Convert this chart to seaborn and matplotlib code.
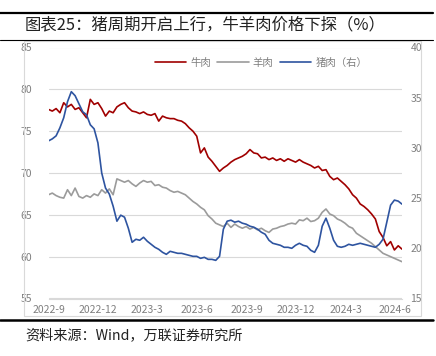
import numpy as np
import pandas as pd
import matplotlib
matplotlib.use("Agg")
import matplotlib.pyplot as plt
from matplotlib.lines import Line2D
from matplotlib.patches import Rectangle
import seaborn as sns

# ---------------- data (weekly readings from the chart) ----------------
start_date = "2022-09-01"
n_weeks = 94

beef = [77.6, 77.4, 77.7, 77.2, 78.4, 77.9, 78.2, 77.6, 77.8, 77.2,
        76.6, 78.8, 78.2, 78.4, 77.7, 76.8, 77.4, 77.2, 77.9, 78.2,
        78.4, 77.8, 77.4, 77.3, 77.1, 77.3, 77.0, 76.9, 77.1, 76.2,
        76.8, 76.6, 76.5, 76.5, 76.3, 76.2, 75.9, 75.4, 75.0, 74.4,
        72.4, 73.0, 71.9, 71.4, 70.8, 70.2, 70.6, 70.9, 71.3, 71.6,
        71.8, 72.0, 72.3, 72.8, 72.4, 72.3, 71.8, 71.9, 71.6, 71.8,
        71.5, 71.7, 71.4, 71.7, 71.5, 71.3, 71.6, 71.3, 71.1, 70.9,
        70.6, 70.8, 70.3, 70.4, 69.6, 69.2, 69.4, 69.0, 68.6, 68.1,
        67.4, 67.0, 66.3, 66.0, 65.6, 65.1, 64.5, 63.0, 62.3, 61.3,
        61.8, 60.8, 61.3, 60.9]

lamb = [67.4, 67.6, 67.3, 67.1, 67.0, 68.0, 67.3, 68.2, 67.2, 67.0,
        67.3, 67.1, 67.5, 67.3, 68.0, 67.6, 68.1, 67.4, 69.3, 69.1,
        68.9, 69.1, 68.7, 68.4, 68.8, 69.1, 68.9, 69.0, 68.5, 68.6,
        68.3, 68.2, 67.9, 67.7, 67.8, 67.6, 67.4, 67.0, 66.6, 66.3,
        65.9, 65.6, 64.9, 64.5, 64.0, 63.8, 63.6, 64.0, 63.5, 63.9,
        63.6, 63.4, 63.6, 63.3, 63.5, 63.2, 63.4, 63.1, 62.9, 63.3,
        63.4, 63.6, 63.7, 63.9, 64.0, 63.9, 64.4, 64.3, 64.6, 64.2,
        64.3, 64.6, 65.3, 65.7, 65.1, 64.9, 64.5, 64.3, 64.0, 63.6,
        63.4, 62.8, 62.5, 62.2, 61.9, 61.6, 61.2, 60.8, 60.4, 60.2,
        60.0, 59.8, 59.6, 59.4]

pork = [30.7, 30.9, 31.2, 32.0, 33.0, 34.6, 35.6, 35.2, 34.4, 33.6,
        33.3, 32.3, 31.9, 30.5, 27.5, 26.0, 25.4, 24.2, 22.7, 23.3,
        23.1, 22.0, 20.6, 20.9, 20.8, 21.1, 20.7, 20.4, 20.1, 19.9,
        19.6, 19.4, 19.7, 19.6, 19.5, 19.5, 19.4, 19.3, 19.2, 19.2,
        19.0, 19.1, 18.9, 18.9, 18.8, 19.2, 21.9, 22.7, 22.8, 22.6,
        22.7, 22.5, 22.4, 22.2, 22.1, 21.9, 21.6, 21.4, 20.8, 20.5,
        20.4, 20.3, 20.1, 20.1, 20.0, 20.3, 20.5, 20.3, 20.2, 19.8,
        19.6, 20.3, 22.2, 23.0, 22.0, 20.8, 20.2, 20.1, 20.2, 20.4,
        20.3, 20.4, 20.5, 20.4, 20.3, 20.2, 20.1, 20.4, 20.9, 22.6,
        24.3, 24.8, 24.7, 24.4]

series_names = ["牛肉", "羊肉", "猪肉（右）"]
tick_dates = ["2022-09-01", "2022-12-01", "2023-03-01", "2023-06-01",
              "2023-09-01", "2023-12-01", "2024-03-01", "2024-06-01"]
tick_labels = ["2022-9", "2022-12", "2023-3", "2023-6",
               "2023-9", "2023-12", "2024-3", "2024-6"]
left_ticks = [55, 60, 65, 70, 75, 80, 85]
right_ticks = [15, 20, 25, 30, 35, 40]
title_text = "图表25：猪周期开启上行，牛羊肉价格下探（%）"
source_text = "资料来源：Wind，万联证券研究所"

dates = pd.date_range(start_date, periods=n_weeks, freq="7D")
df = pd.DataFrame({"date": dates, "beef": beef, "lamb": lamb, "pork": pork})

# ---------------- style ----------------
sns.set_theme(style="white")
plt.rcParams["font.family"] = ["Noto Sans CJK SC", "DejaVu Sans"]

RED = "#A00000"
GRAY = "#9B9B9B"
BLUE = "#2E54A0"
TXT = "#7F7F7F"

W, H = 436, 356
fig = plt.figure(figsize=(W / 100, H / 100), dpi=100)

# frame lines and chart box
fig.add_artist(Line2D([0, 433 / W], [1 - 12.5 / H] * 2, color="black", lw=1.6))
fig.add_artist(Line2D([0, 433 / W], [1 - 40 / H] * 2, color="black", lw=0.8))
fig.add_artist(Line2D([0, 433 / W], [1 - 319.5 / H] * 2, color="black", lw=1.8))
fig.add_artist(Rectangle((24 / W, 1 - 316 / H), (421 - 24) / W, (316 - 41) / H,
                         fill=False, edgecolor="#D9D9D9", lw=0.8))

left, right = 48.5, 402.0
top, bottom = 47.5, 298.5
ax = fig.add_axes([left / W, 1 - bottom / H, (right - left) / W, (bottom - top) / H])
ax2 = ax.twinx()

sns.lineplot(data=df, x="date", y="beef", ax=ax, color=RED, lw=1.2, label=series_names[0], legend=False)
sns.lineplot(data=df, x="date", y="lamb", ax=ax, color=GRAY, lw=1.2, label=series_names[1], legend=False)
sns.lineplot(data=df, x="date", y="pork", ax=ax2, color=BLUE, lw=1.2, label=series_names[2], legend=False)

ax.set_ylim(55, 85)
ax2.set_ylim(15, 40)
ax.set_yticks(left_ticks)
ax2.set_yticks(right_ticks)
ax.set_xlim(pd.Timestamp("2022-09-01"), pd.Timestamp("2024-06-13"))
ax.set_xticks(pd.to_datetime(tick_dates))
ax.set_xticklabels(tick_labels)

for a in (ax, ax2):
    for s in a.spines.values():
        s.set_visible(False)
    a.set_xlabel("")
    a.set_ylabel("")
ax.spines["bottom"].set_visible(True)
ax.spines["bottom"].set_color("#D9D9D9")
ax.spines["bottom"].set_linewidth(0.8)

ax.grid(axis="y", color="#D9D9D9", lw=0.8)
ax.set_axisbelow(True)
ax.tick_params(axis="x", direction="out", length=3, width=0.8, color="#D9D9D9",
               labelsize=7.5, labelcolor=TXT, pad=2)
ax.tick_params(axis="y", length=0, labelsize=7.5, labelcolor=TXT, pad=12)
ax2.tick_params(axis="y", length=0, labelsize=7.5, labelcolor=TXT, pad=6)

# legend
handles = [Line2D([], [], color=c, lw=1.2) for c in (RED, GRAY, BLUE)]
fig.legend(handles, series_names, loc="center", bbox_to_anchor=(261 / W, 1 - 63 / H),
           ncol=3, frameon=False, fontsize=7.5, labelcolor=TXT, handlelength=3.0,
           handletextpad=0.4, columnspacing=0.6)

fig.text(25 / W, 1 - 25 / H, title_text, fontsize=11.8, color="#222222", va="center", ha="left")
fig.text(25 / W, 1 - 335 / H, source_text, fontsize=10.2, color="#222222", va="center", ha="left")

fig.savefig("out.png", dpi=100)
